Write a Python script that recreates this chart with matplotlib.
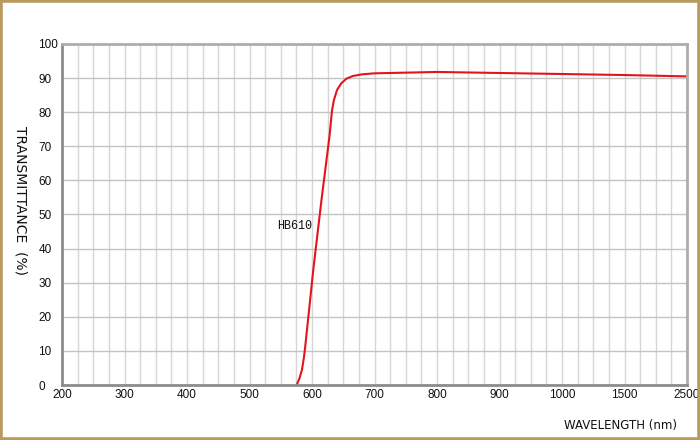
import numpy as np
import matplotlib
matplotlib.use("Agg")
import matplotlib.pyplot as plt
from matplotlib.patches import Rectangle

# curve (nm, %)
wavelength = [575.5, 580, 584, 587, 589, 602, 615, 628, 632, 635, 640, 647,
              655, 665, 680, 700, 750, 800, 900, 1000, 1500, 2500]
transmittance = [0, 2, 4.5, 8, 11, 33.7, 54, 73, 80.5, 83.5, 86.5, 88.5,
                 89.8, 90.6, 91.1, 91.4, 91.6, 91.8, 91.5, 91.2, 90.9, 90.5]

# the x axis is piecewise: 200..1000 evenly, then 1500, then 2500
axis_nm = [200, 1000, 1500, 2500]
axis_pos = [0, 8, 9, 10]

major_ticks = [200, 300, 400, 500, 600, 700, 800, 900, 1000, 1500, 2500]
minor_ticks = (list(range(200, 1000, 25)) + list(range(1000, 1500, 125))
               + list(range(1500, 2501, 250)))
y_ticks = list(range(0, 101, 10))
curve_label = "HB610"


def fwd(x):
    return np.interp(x, axis_nm, axis_pos)


def inv(p):
    return np.interp(p, axis_pos, axis_nm)


fig = plt.figure(figsize=(7, 4.4), dpi=100)
fig.patches.append(Rectangle((0, 0), 1, 1, transform=fig.transFigure,
                             fill=False, edgecolor="#b89a5e", linewidth=4))

ax = fig.add_axes([62 / 700, 55 / 440, 625 / 700, 341 / 440])
ax.set_xscale("function", functions=(fwd, inv))
ax.set_xlim(200, 2500)
ax.set_ylim(0, 100)

ax.set_xticks(major_ticks)
ax.set_xticklabels([str(t) for t in major_ticks])
ax.set_xticks(minor_ticks, minor=True)
ax.set_yticks(y_ticks)

ax.grid(True, which="both", axis="x", color="#d6d6d6", linewidth=1)
ax.grid(True, which="major", axis="y", color="#c4c4c4", linewidth=1)
ax.set_axisbelow(True)

ax.tick_params(which="both", length=0)
ax.tick_params(axis="x", pad=3, labelsize=8.5, labelcolor="#111111")
ax.tick_params(axis="y", pad=17, labelsize=8.5, labelcolor="#111111")
for lab in ax.get_xticklabels() + ax.get_yticklabels():
    lab.set_fontfamily("Liberation Sans")
for lab in ax.get_yticklabels():
    lab.set_horizontalalignment("left")

for side in ["left", "bottom"]:
    ax.spines[side].set_color("#8c8c8c")
    ax.spines[side].set_linewidth(2)
for side in ["top", "right"]:
    ax.spines[side].set_color("#adadad")
    ax.spines[side].set_linewidth(2)

ax.plot(wavelength, transmittance, color="#e3141c", linewidth=1.5)
ax.text(573, 46.6, curve_label, fontsize=8.5, family="Liberation Mono",
        ha="center", va="center", color="#111111")

fig.text(20 / 700, 1 - 200 / 440, "TRANSMITTANCE  (%)", rotation=270,
         ha="center", va="center", fontsize=10, color="#111111")
fig.text(677 / 700, 1 - 425 / 440, "WAVELENGTH (nm)", ha="right",
         va="center", fontsize=8.5, color="#111111")

fig.savefig("out.png", dpi=100)
